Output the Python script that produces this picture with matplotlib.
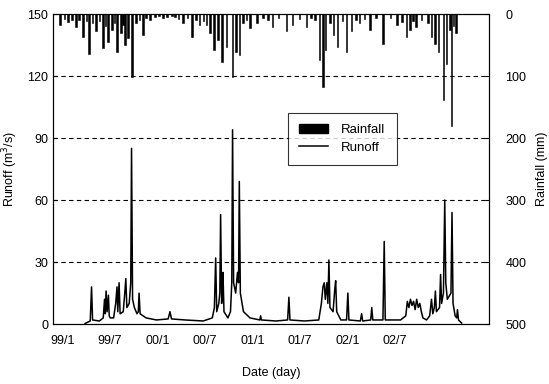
import matplotlib
matplotlib.use("Agg")
import matplotlib.pyplot as plt
from matplotlib.patches import Patch
from matplotlib.lines import Line2D

plt.rcParams['font.family'] = ['Liberation Sans', 'DejaVu Sans']

# x axis is in days counted from 1999-01-01
tick_days = [0, 181, 365, 547, 731, 912, 1096, 1277]
tick_labels = ['99/1', '99/7', '00/1', '00/7', '01/1', '01/7', '02/1', '02/7']

# runoff (m3/s), (day, value) pairs
runoff_1999 = [(85, 0.3), (105, 1.5), (110, 18), (114, 2), (140, 1.5), (155, 3), (160, 12),
               (163, 5), (166, 16), (170, 6), (175, 14), (178, 4), (182, 3), (195, 3),
               (203, 10), (208, 18), (211, 6), (216, 20), (220, 5), (232, 6), (238, 15),
               (242, 22), (246, 8), (255, 10), (261, 20), (264, 85), (268, 12), (275, 8),
               (285, 5), (290, 6), (293, 15), (297, 5), (320, 3), (360, 2), (405, 2.5),
               (412, 6), (418, 2.5), (470, 2), (540, 1.5)]
runoff_2000 = [(575, 3), (583, 8), (588, 32), (592, 6), (600, 10), (604, 15), (607, 53),
               (611, 10), (614, 20), (616, 25), (620, 6), (635, 3), (645, 6), (650, 20),
               (653, 94), (657, 20), (665, 15), (672, 25), (676, 20), (679, 69), (683, 15),
               (695, 6), (720, 3), (758, 2), (761, 4), (764, 2), (820, 1.5), (865, 2),
               (870, 13), (874, 2), (930, 1.5)]
runoff_2001 = [(985, 2), (995, 10), (1001, 18), (1006, 20), (1010, 12), (1016, 20),
               (1020, 10), (1024, 31), (1028, 8), (1040, 6), (1046, 16), (1050, 21),
               (1054, 6), (1070, 2), (1092, 2), (1097, 15), (1101, 2), (1145, 1.5),
               (1150, 5), (1154, 1.5), (1185, 2), (1189, 8), (1193, 2), (1232, 2),
               (1237, 40), (1241, 2)]
runoff_2002 = [(1300, 2), (1320, 4), (1326, 11), (1332, 8), (1338, 12), (1344, 9),
               (1350, 11), (1356, 7), (1362, 12), (1368, 8), (1374, 10), (1380, 6),
               (1386, 3), (1400, 2), (1412, 4), (1419, 12), (1424, 5), (1430, 8),
               (1434, 16), (1438, 6), (1450, 8), (1454, 24), (1458, 10), (1465, 15),
               (1470, 60), (1474, 20), (1480, 12), (1494, 15), (1498, 54), (1502, 10),
               (1510, 4), (1516, 3), (1519, 7), (1523, 2), (1535, 0.5)]

# daily rainfall (mm)
rain_day = [-12, 5, 19, 35, 50, 62, 77, 90, 100, 115, 127, 140, 154, 163, 173, 189,
            198, 208, 223, 231, 239, 250, 266, 281, 295, 308, 320, 335, 354, 370, 385,
            400, 420, 431, 446, 462, 480, 497, 512, 527, 541, 554, 566, 581, 597, 612,
            631, 654, 666, 681, 693, 706, 720, 747, 770, 790, 808, 830, 862, 885, 910,
            939, 955, 970, 989, 1001, 1012, 1028, 1043, 1058, 1075, 1093, 1112, 1128,
            1143, 1160, 1182, 1205, 1232, 1260, 1286, 1305, 1324, 1336, 1348, 1359,
            1380, 1405, 1420, 1432, 1447, 1466, 1478, 1490, 1497, 1505, 1513]
rain_mm = [18, 8, 13, 10, 21, 9, 37, 12, 64, 15, 28, 11, 55, 20, 45, 26,
           14, 61, 31, 18, 50, 39, 101, 15, 9, 34, 7, 10, 5, 4, 6,
           5, 4, 5, 8, 15, 7, 37, 9, 18, 12, 18, 31, 58, 42, 77,
           53, 101, 61, 66, 15, 9, 23, 15, 7, 9, 21, 6, 28, 18, 8,
           21, 7, 10, 74, 117, 58, 14, 34, 53, 12, 61, 28, 9,
           15, 8, 26, 7, 48, 6, 18, 13, 37, 26, 12, 21,
           9, 15, 37, 48, 61, 139, 80, 25, 180, 20, 31]

runoff = runoff_1999 + runoff_2000 + runoff_2001 + runoff_2002
r_day = [p[0] for p in runoff]
r_val = [p[1] for p in runoff]

fig = plt.figure(figsize=(5.49, 3.84), dpi=100)
ax = fig.add_axes([0.0965, 0.156, 0.794, 0.8075])

ax.plot(r_day, r_val, color='black', lw=1.1)
ax.set_xlim(-38.5, 1640)
ax.set_ylim(0, 150)
ax.set_yticks([0, 30, 60, 90, 120, 150])
ax.set_xticks(tick_days)
ax.set_xticklabels(tick_labels)
for y in [30, 60, 90, 120]:
    ax.axhline(y, color='black', ls=(0, (4, 3)), lw=0.8)
ax.tick_params(axis='y', direction='in', length=3, labelsize=9)
ax.tick_params(axis='x', length=0, labelsize=9, pad=8)
ax.set_ylabel('Runoff (m$^3$/s)', fontsize=9)
ax.yaxis.set_label_coords(-0.075, 0.5)
ax.set_xlabel('Date (day)', fontsize=9, labelpad=14)

ax2 = ax.twinx()
ax2.bar(rain_day, rain_mm, width=5, color='black', edgecolor='black', lw=0.4, align='center')
ax2.set_ylim(500, 0)
ax2.set_yticks([0, 100, 200, 300, 400, 500])
ax2.tick_params(axis='y', direction='in', length=3, labelsize=9, pad=12)
ax2.set_ylabel('Rainfall (mm)', fontsize=9)
ax2.yaxis.set_label_coords(1.108, 0.5)
ax2.set_xlim(-38.5, 1640)

handles = [Patch(facecolor='black', edgecolor='black'),
           Line2D([0], [0], color='black', lw=1.1)]
leg = ax2.legend(handles, ['Rainfall', 'Runoff'], loc='upper left',
                 bbox_to_anchor=(0.539, 0.681), borderaxespad=0, fontsize=9.5,
                 frameon=True, fancybox=False, edgecolor='black',
                 handlelength=2.2, handletextpad=1.0, borderpad=0.85,
                 labelspacing=0.4)
leg.get_frame().set_linewidth(0.8)

fig.savefig('out.png', dpi=100)
